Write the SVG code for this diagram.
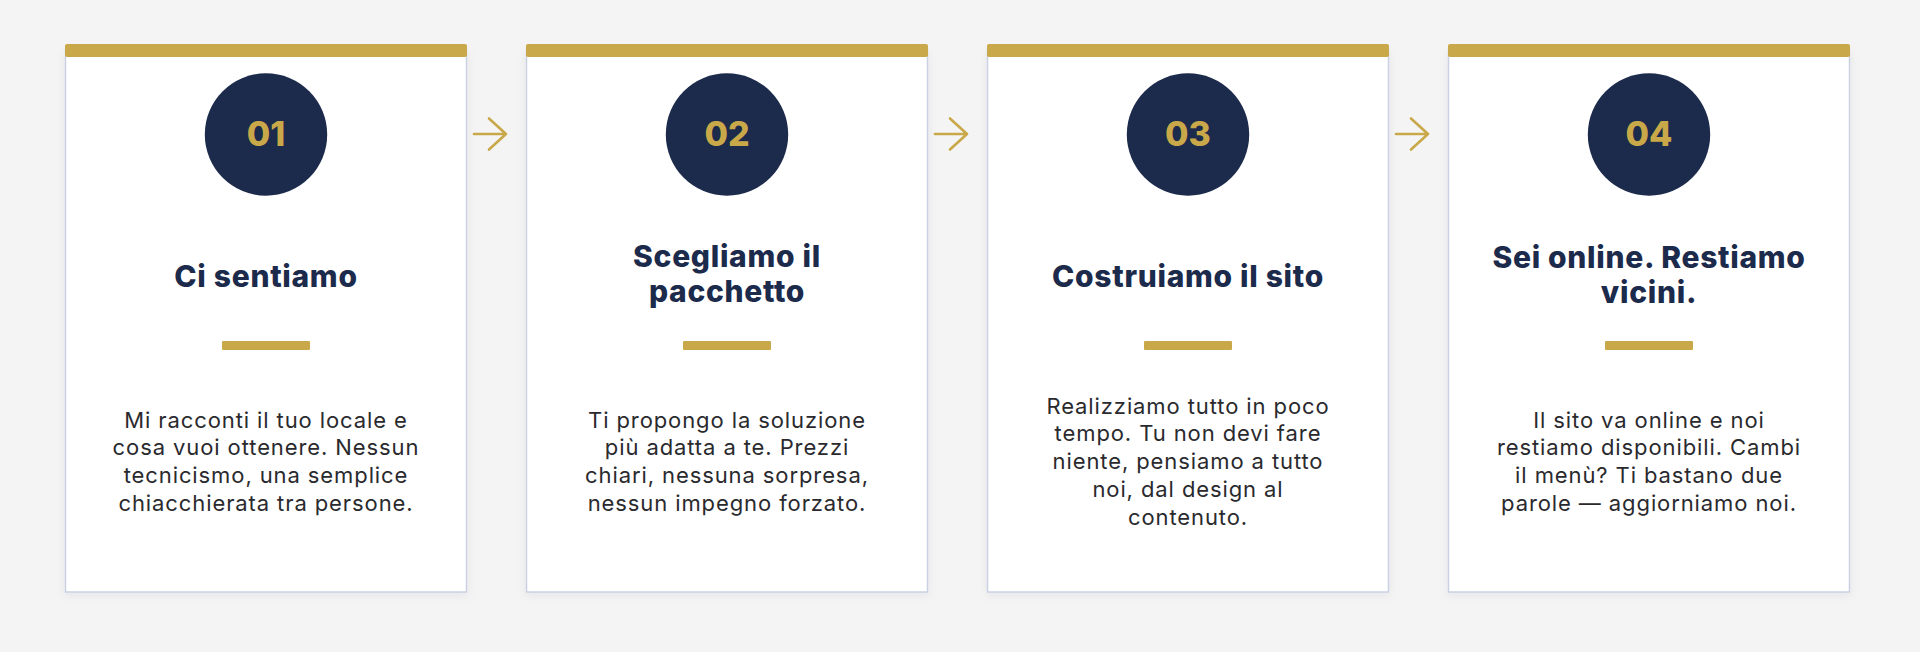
<svg xmlns="http://www.w3.org/2000/svg" width="1920" height="652" viewBox="0 0 1920 652">
<defs>
<style>
.card{fill:#ffffff;stroke:#c9d1e2;stroke-width:1.5}
.topbar{fill:#c9a84a}
.circle{fill:#1c2a4b}
.num{font-family:Inter,"Liberation Sans",sans-serif;font-weight:800;font-size:34px;fill:#c9a84a;text-anchor:middle}
.title{font-family:Inter,"Liberation Sans",sans-serif;font-weight:800;font-size:30px;fill:#1c2a4b;text-anchor:middle;letter-spacing:0.7px}
.rule{fill:#c9a84a}
.body{font-family:Inter,"Liberation Sans",sans-serif;font-weight:400;font-size:22px;fill:#2a2a2e;text-anchor:middle;letter-spacing:0.9px}
.arrow{fill:none;stroke:#c9a84a;stroke-width:2.6;stroke-linecap:round;stroke-linejoin:round}
</style>
<filter id="sh" x="-10%" y="-10%" width="120%" height="120%">
<feDropShadow dx="0" dy="3" stdDeviation="5" flood-color="#1c2a4b" flood-opacity="0.06"/>
</filter>
</defs>
<rect width="1920" height="652" fill="#f4f4f5"/>

<g id="step1">
<rect class="card" x="65.5" y="50" width="401" height="542" filter="url(#sh)"/>
<rect class="topbar" x="65" y="44" width="402" height="13" rx="2"/>
<circle class="circle" cx="266" cy="134.5" r="61.2"/>
<text class="num" x="266" y="145.5">01</text>
<text class="title" x="266" y="286.5">Ci sentiamo</text>
<rect class="rule" x="222" y="341" width="88" height="9" rx="1"/>
<text class="body" x="266" y="427.5">Mi racconti il tuo locale e</text>
<text class="body" x="266" y="455.3">cosa vuoi ottenere. Nessun</text>
<text class="body" x="266" y="483.1">tecnicismo, una semplice</text>
<text class="body" x="266" y="510.9">chiacchierata tra persone.</text>
</g>

<g id="step2">
<rect class="card" x="526.5" y="50" width="401" height="542" filter="url(#sh)"/>
<rect class="topbar" x="526" y="44" width="402" height="13" rx="2"/>
<circle class="circle" cx="727" cy="134.5" r="61.2"/>
<text class="num" x="727" y="145.5">02</text>
<text class="title" x="727" y="266.7">Scegliamo il</text>
<text class="title" x="727" y="301.7">pacchetto</text>
<rect class="rule" x="683" y="341" width="88" height="9" rx="1"/>
<text class="body" x="727" y="427.5">Ti propongo la soluzione</text>
<text class="body" x="727" y="455.3">più adatta a te. Prezzi</text>
<text class="body" x="727" y="483.1">chiari, nessuna sorpresa,</text>
<text class="body" x="727" y="510.9">nessun impegno forzato.</text>
</g>

<g id="step3">
<rect class="card" x="987.5" y="50" width="401" height="542" filter="url(#sh)"/>
<rect class="topbar" x="987" y="44" width="402" height="13" rx="2"/>
<circle class="circle" cx="1188" cy="134.5" r="61.2"/>
<text class="num" x="1188" y="145.5">03</text>
<text class="title" x="1188" y="286.5">Costruiamo il sito</text>
<rect class="rule" x="1144" y="341" width="88" height="9" rx="1"/>
<text class="body" x="1188" y="413.5">Realizziamo tutto in poco</text>
<text class="body" x="1188" y="441.3">tempo. Tu non devi fare</text>
<text class="body" x="1188" y="469.1">niente, pensiamo a tutto</text>
<text class="body" x="1188" y="496.9">noi, dal design al</text>
<text class="body" x="1188" y="524.7">contenuto.</text>
</g>

<g id="step4">
<rect class="card" x="1448.5" y="50" width="401" height="542" filter="url(#sh)"/>
<rect class="topbar" x="1448" y="44" width="402" height="13" rx="2"/>
<circle class="circle" cx="1649" cy="134.5" r="61.2"/>
<text class="num" x="1649" y="145.5">04</text>
<text class="title" x="1649" y="268.3">Sei online. Restiamo</text>
<text class="title" x="1649" y="303.3">vicini.</text>
<rect class="rule" x="1605" y="341" width="88" height="9" rx="1"/>
<text class="body" x="1649" y="427.5">Il sito va online e noi</text>
<text class="body" x="1649" y="455.3">restiamo disponibili. Cambi</text>
<text class="body" x="1649" y="483.1">il menù? Ti bastano due</text>
<text class="body" x="1649" y="510.9">parole — aggiorniamo noi.</text>
</g>

<g id="connectors">
<path class="arrow" d="M474 134 H506 M489 118.5 L506 134 L489 149.5"/>
<path class="arrow" d="M935 134 H967 M950 118.5 L967 134 L950 149.5"/>
<path class="arrow" d="M1396 134 H1428 M1411 118.5 L1428 134 L1411 149.5"/>
</g>
</svg>
